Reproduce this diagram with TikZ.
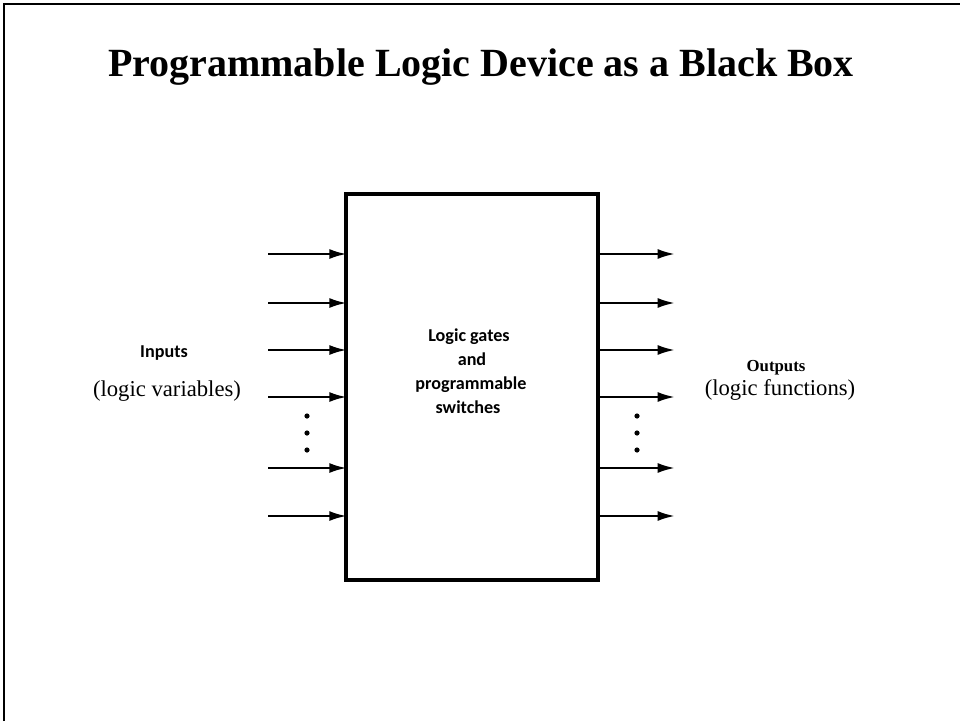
\documentclass[tikz,border=0pt]{standalone}
\usepackage{fontspec}
\setmainfont{Liberation Serif}
\newfontfamily\calibrifont{Carlito}
\usetikzlibrary{arrows.meta}
\begin{document}
\begin{tikzpicture}[x=0.75pt,y=-0.75pt,
  frame/.style={line width=2pt,black},
  pin/.style={line width=1.8pt,-{Latex[length=13pt,width=7.5pt]}},
  dotmark/.style={fill=black,draw=none},
  boxtext/.style={anchor=base,inner sep=0pt,font=\calibrifont\bfseries\fontsize{13.6}{18}\selectfont},
  sidetext/.style={anchor=base,inner sep=0pt,font=\fontsize{17}{20}\selectfont}]
\useasboundingbox (0,0) rectangle (960,721);
% slide frame
\draw[frame] (4,721) -- (4,4) -- (960,4);
% title
\node[anchor=base,inner sep=0pt,font=\bfseries\fontsize{30}{36}\selectfont] (title) at (481,76)
  {Programmable Logic Device as a Black Box};
% the device
\node[draw,line width=3.4pt,minimum width=189pt,minimum height=289.5pt,inner sep=0pt] (box) at (472,387) {};
\node[boxtext] (t1) at (469,341) {Logic gates};
\node[boxtext] (t2) at (472,365) {and};
\node[boxtext] (t3) at (471,389) {programmable};
\node[boxtext] (t4) at (468,413) {switches};
% inputs: the arrow tips run into the box outline
\foreach \n/\y in {1/254,2/303,3/350,4/397,5/468,6/516}{
  \coordinate (in\n) at (268,\y);
  \draw[pin,shorten >=-2.2pt] (in\n) -- (in\n -| box.west);
}
% outputs
\foreach \n/\y in {1/254,2/303,3/350,4/397,5/468,6/516}{
  \coordinate (out\n) at (675,\y);
  \draw[pin] (out\n -| box.east) -- (out\n);
}
% ellipsis dots
\foreach \y in {416,433,450}{
  \fill[dotmark] (307,\y) circle (2.6);
  \fill[dotmark] (637,\y) circle (2.6);
}
% labels
\node[boxtext] (inlbl) at (164,357) {Inputs};
\node[sidetext] (invar) at (167,396) {(logic variables)};
\node[anchor=base,inner sep=0pt,font=\bfseries\fontsize{12.6}{15}\selectfont] (outlbl) at (776,371) {Outputs};
\node[sidetext] (outfn) at (780,395) {(logic functions)};
\end{tikzpicture}
\end{document}
